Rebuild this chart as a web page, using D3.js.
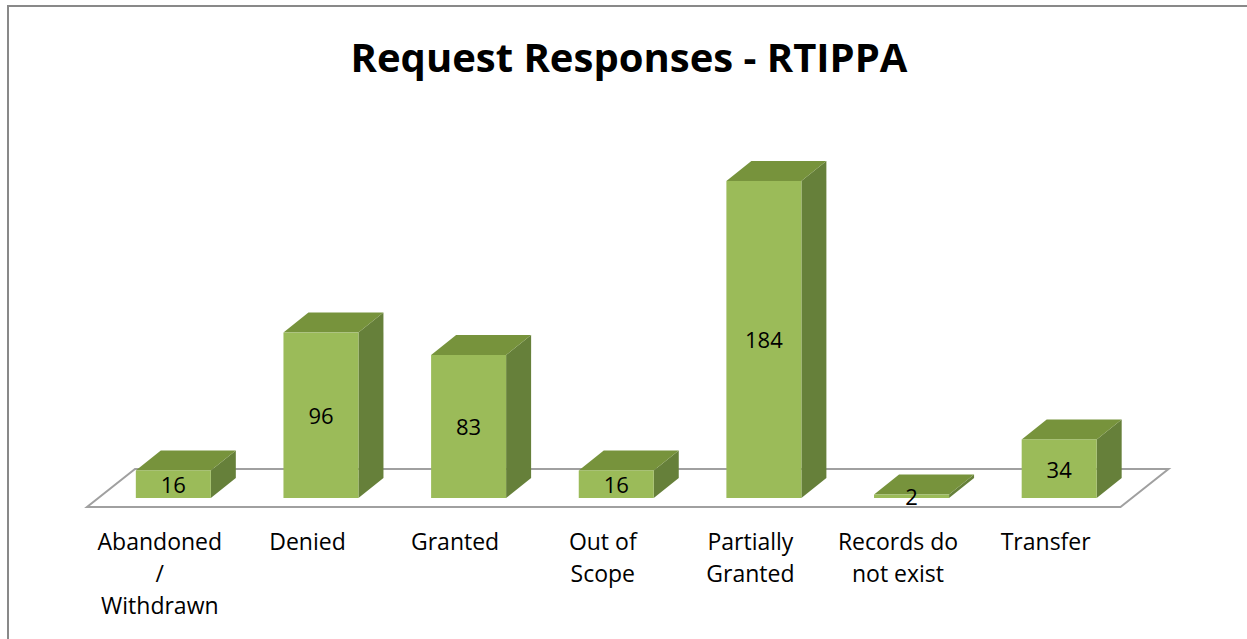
<!DOCTYPE html>
<html>
<head>
<meta charset="utf-8">
<script src="https://cdn.jsdelivr.net/npm/d3@7"></script>
<style>
	body { margin: 0; background: #fff; }
	svg { display: block; }
	text { font-family: "Open Sans", "Noto Sans", sans-serif; fill: #000; }
</style>
</head>
<body>
<svg width="1247" height="639"></svg>
<script>
/* DATA */
var categories = ["Abandoned / Withdrawn", "Denied", "Granted", "Out of Scope", "Partially Granted", "Records do not exist", "Transfer"];
var categoryLines = [["Abandoned", "/", "Withdrawn"], ["Denied"], ["Granted"], ["Out of", "Scope"], ["Partially", "Granted"], ["Records do", "not exist"], ["Transfer"]];
var values = [16, 96, 83, 16, 184, 2, 34];
var chartTitle = "Request Responses - RTIPPA";

/* SVG */
var svg = d3.select("svg");
var width = +svg.attr("width");

// chart frame (only top and left edges visible)
svg.append("path")
	.attr("d", "M8,639 L8,6 L1247,6")
	.attr("fill", "none")
	.attr("stroke", "#898989")
	.attr("stroke-width", 2);

/* SCALES */
var x = d3.scalePoint().domain(categories).range([99.5, 1133]).padding(0.5);
var y = d3.scaleLinear().domain([0, 200]).range([498, 153.4]);

var barW = 75;
var depthX = 25, depthY = -20; // bar depth
var floorDX = 48, floorDY = -38; // floor depth
var floorFront = 507;
var r = x.range();

/* FLOOR */
svg.append("path")
	.attr("d", "M" + (r[0] - 12.5) + "," + floorFront +
		" L" + (r[1] - 12.5) + "," + floorFront +
		" L" + (r[1] - 12.5 + floorDX) + "," + (floorFront + floorDY) +
		" L" + (r[0] - 12.5 + floorDX) + "," + (floorFront + floorDY) + " Z")
	.attr("fill", "#fff")
	.attr("stroke", "#a0a0a0")
	.attr("stroke-width", 2);

/* BARS */
var bars = svg.append("g")
	.selectAll("g")
	.data(values)
	.enter()
	.append("g");

function left(d, i) { return x(categories[i]) - barW / 2; }

bars.append("path")
	.attr("fill", "#66803a")
	.attr("d", function (d, i) {
		var x0 = left(d, i) + barW, yt = y(d), yb = y(0);
		return "M" + x0 + "," + yt + " L" + (x0 + depthX) + "," + (yt + depthY) +
			" L" + (x0 + depthX) + "," + (yb + depthY) + " L" + x0 + "," + yb + " Z";
	});

bars.append("path")
	.attr("fill", "#77933c")
	.attr("d", function (d, i) {
		var x0 = left(d, i), yt = y(d);
		return "M" + x0 + "," + yt + " L" + (x0 + depthX) + "," + (yt + depthY) +
			" L" + (x0 + barW + depthX) + "," + (yt + depthY) + " L" + (x0 + barW) + "," + yt + " Z";
	});

bars.append("rect")
	.attr("fill", "#9bbb59")
	.attr("x", left)
	.attr("y", function (d) { return y(d); })
	.attr("width", barW)
	.attr("height", function (d) { return y(0) - y(d); });

/* VALUE LABELS */
bars.append("text")
	.attr("x", function (d, i) { return x(categories[i]); })
	.attr("y", function (d) { return (y(d) + y(0)) / 2 + 9; })
	.attr("text-anchor", "middle")
	.style("font-size", "22px")
	.text(function (d) { return d; });

/* CATEGORY LABELS */
var cats = svg.append("g")
	.selectAll("text")
	.data(categoryLines)
	.enter()
	.append("text")
	.attr("text-anchor", "middle")
	.style("font-size", "23px");

cats.selectAll("tspan")
	.data(function (lines, i) {
		return lines.map(function (l) { return { t: l, i: i }; });
	})
	.enter()
	.append("tspan")
	.attr("x", function (d) { return x(categories[d.i]) - 13.5; })
	.attr("y", function (d, j) { return 550 + j * 32; })
	.text(function (d) { return d.t; });

/* TITLE */
svg.append("text")
	.attr("x", 629)
	.attr("y", 72)
	.attr("text-anchor", "middle")
	.style("font-size", "40px")
	.style("font-weight", "bold")
	.text(chartTitle);
</script>
</body>
</html>
